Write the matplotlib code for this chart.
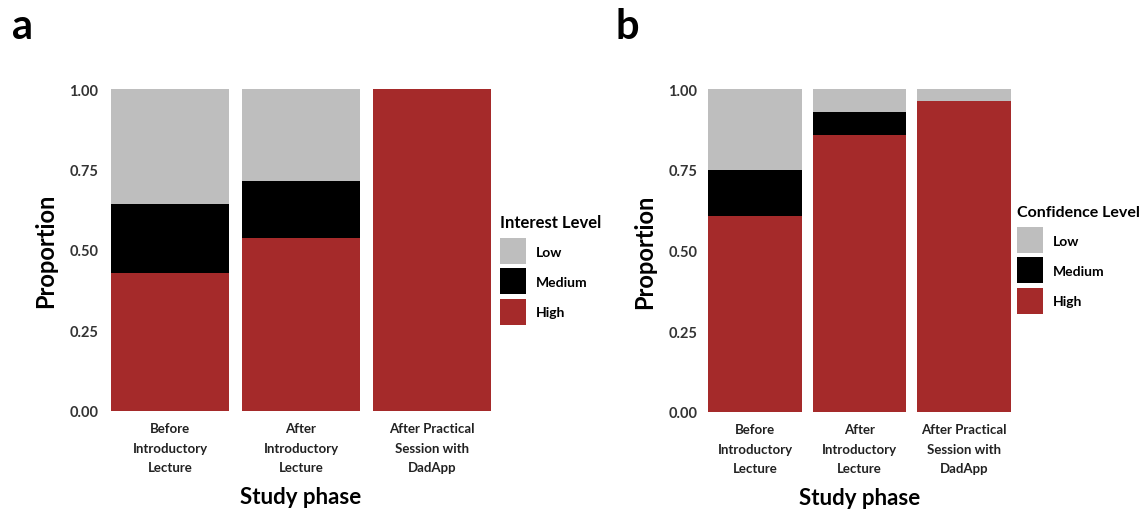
import matplotlib
matplotlib.use("Agg")
import matplotlib.pyplot as plt
from matplotlib.patches import Patch
import numpy as np

phases = ["Before\nIntroductory\nLecture", "After\nIntroductory\nLecture",
          "After Practical\nSession with\nDadApp"]
levels = ["High", "Medium", "Low"]
colors = {"Low": "#BEBEBE", "Medium": "#000000", "High": "#A52A2A"}

interest_high = [0.429, 0.536, 1.000]
interest_medium = [0.214, 0.179, 0.000]
interest_low = [0.357, 0.286, 0.000]

conf_high = [0.607, 0.857, 0.964]
conf_medium = [0.143, 0.071, 0.000]
conf_low = [0.250, 0.071, 0.036]

plt.rcParams['font.family'] = ['Lato', 'DejaVu Sans']
plt.rcParams['font.weight'] = 'bold'

W, H = 1141, 510
fig = plt.figure(figsize=(W / 100, H / 100), dpi=100)

def px_axes(left, right, top, bottom):
    return fig.add_axes([left / W, 1 - bottom / H, (right - left) / W, (bottom - top) / H])

def panel(ax, high, medium, low, title, legend_pos, title_size):
    x = np.arange(1, len(phases) + 1)
    vals = {"High": high, "Medium": medium, "Low": low}
    bottom = np.zeros(len(phases))
    for lv in levels:
        ax.bar(x, vals[lv], width=0.9, bottom=bottom, color=colors[lv], linewidth=0)
        bottom += np.array(vals[lv])
    ax.set_xlim(0.47, 3.53)
    ax.set_ylim(0, 1)
    ax.set_yticks([0, 0.25, 0.5, 0.75, 1.0])
    ax.set_yticklabels(["0.00", "0.25", "0.50", "0.75", "1.00"], fontsize=10.5, fontweight='bold', color='#333333')
    ax.set_xticks(x)
    ax.set_xticklabels(phases, fontsize=9.5, fontweight='bold', color='#222222', linespacing=1.75)
    ax.tick_params(axis='y', length=0, pad=2)
    ax.tick_params(axis='x', length=0, pad=8)
    for s in ax.spines.values():
        s.set_visible(False)
    ax.set_xlabel("Study phase", fontsize=16, fontweight='bold', labelpad=9)
    ax.set_ylabel("Proportion", fontsize=17, fontweight='bold', labelpad=9)
    handles = [Patch(facecolor=colors[lv], edgecolor='none', label=lv) for lv in ["Low", "Medium", "High"]]
    leg = ax.legend(handles=handles, title=title, loc='upper left', bbox_to_anchor=legend_pos,
                    bbox_transform=fig.transFigure, frameon=False, fontsize=10,
                    title_fontproperties={'weight': 'bold', 'size': title_size},
                    handlelength=1.87, handleheight=2.5, labelspacing=0.3, handletextpad=0.7,
                    borderaxespad=0, borderpad=0)
    leg._legend_box.align = "left"
    leg._legend_box.sep = 6

ax1 = px_axes(101, 501, 90, 412)
panel(ax1, interest_high, interest_medium, interest_low, "Interest Level", (500 / W, 1 - 215 / H), 12)
ax2 = px_axes(700, 1019, 90, 413)
panel(ax2, conf_high, conf_medium, conf_low, "Confidence Level", (1017 / W, 1 - 206 / H), 11.5)

fig.text(12 / W, 1 - 39 / H, "a", fontsize=30, fontweight='bold', ha='left', va='baseline')
fig.text(616 / W, 1 - 39 / H, "b", fontsize=30, fontweight='bold', ha='left', va='baseline')

fig.savefig("out.png", dpi=100)
